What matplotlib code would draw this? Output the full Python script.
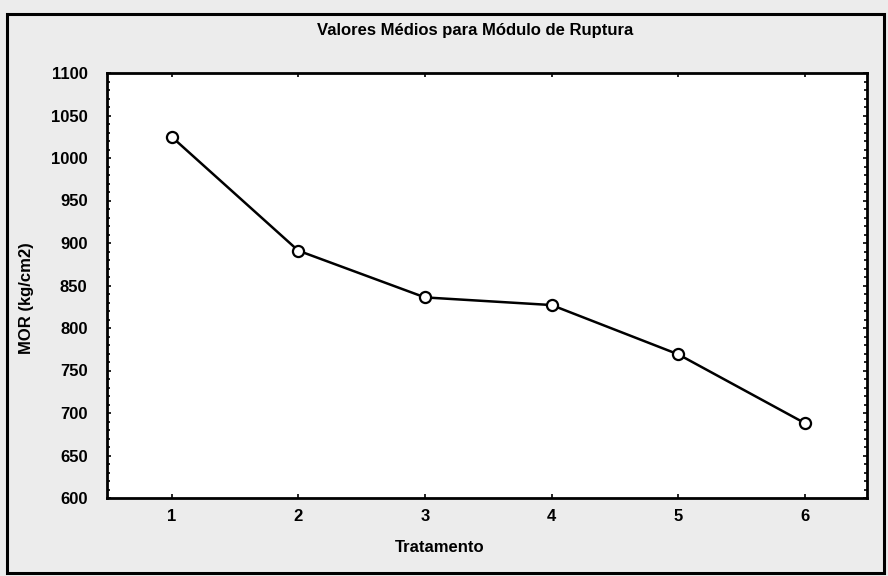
import matplotlib
matplotlib.use("Agg")
import matplotlib.pyplot as plt
from matplotlib.patches import Rectangle
from matplotlib.ticker import MultipleLocator
from matplotlib import font_manager

tratamento = [1, 2, 3, 4, 5, 6]
mor = [1025, 891, 836, 827, 769, 688]
yticks = [600, 650, 700, 750, 800, 850, 900, 950, 1000, 1050, 1100]

names = {f.name for f in font_manager.fontManager.ttflist}
fam = ['Liberation Sans Narrow', 'DejaVu Sans'] if 'Liberation Sans Narrow' in names else ['Liberation Sans', 'DejaVu Sans']
plt.rcParams['font.family'] = fam

fig = plt.figure(figsize=(8.88, 5.76), dpi=100, facecolor='#ececec')
ax = fig.add_axes([107/888, 1-498/576, (867-107)/888, (498-73)/576])
ax.set_facecolor('white')

ax.plot(tratamento, mor, color='black', lw=1.8, marker='o', ms=8,
        mfc='white', mec='black', mew=1.6, zorder=3)

ax.set_xlim(0.49, 6.49)
ax.set_ylim(600, 1100)
ax.set_xticks(tratamento)
ax.set_yticks(yticks)
ax.yaxis.set_minor_locator(MultipleLocator(10))
ax.tick_params(axis='both', which='both', direction='in', top=True, right=True,
               labelsize=12, width=1.2, colors='black')
ax.tick_params(axis='both', which='major', length=3)
ax.tick_params(axis='both', which='minor', length=2)
ax.tick_params(axis='y', pad=14)
ax.tick_params(axis='x', pad=8)
for lbl in ax.get_xticklabels() + ax.get_yticklabels():
    lbl.set_fontweight('bold')
for s in ax.spines.values():
    s.set_linewidth(2)

fig.text(475/888, 1-30/576, 'Valores Médios para Módulo de Ruptura', ha='center', va='center',
         fontsize=12, fontweight='bold')
fig.text(440/888, 1-548/576, 'Tratamento', ha='center', va='center', fontsize=12, fontweight='bold')
fig.text(27/888, 1-298/576, 'MOR (kg/cm2)', ha='center', va='center', rotation=90,
         fontsize=12, fontweight='bold')

fig.patches.append(Rectangle((7/888, 1-573/576), (884-7)/888, (573-14)/576,
                             transform=fig.transFigure, fill=False, edgecolor='black', lw=2.2))

fig.savefig('out.png', dpi=100, facecolor=fig.get_facecolor())
